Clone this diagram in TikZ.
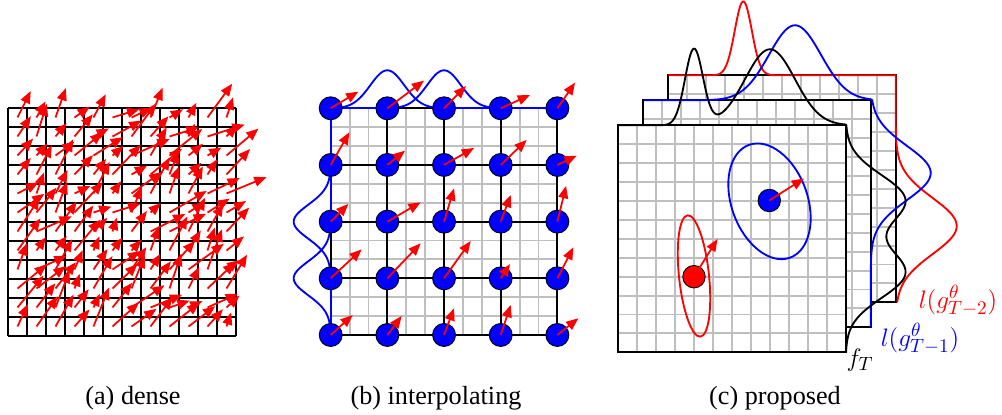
\documentclass[tikz,border=0pt]{standalone}
\usepackage{fontspec}
\setmainfont{Liberation Serif}
\usetikzlibrary{positioning,arrows.meta,calc}

\begin{document}
\begin{tikzpicture}[
  x=0.02cm, y=-0.02cm,
  font=\fontsize{14.9}{17}\selectfont, >={Triangle[length=7pt,width=5.6pt]},
  declare function={gs(\va,\vb,\vc)=exp(-((\va-\vb)/\vc)*((\va-\vb)/\vc)/2);},
  flow/.style={->,red,line width=1pt},
  coarse/.style={black,line width=1.1pt},
  fine/.style={black!25,line width=1.1pt},
  prof/.style={line width=1.05pt,line join=round},
  dot/.style={circle,draw=black,line width=0.5pt,fill=blue,inner sep=0pt,minimum size=0.46cm},
  lbl/.style={inner sep=0pt,font=\fontsize{15.5}{17}\selectfont},
  subcap/.style={anchor=base}
]
\useasboundingbox (0,0) rectangle (1002,415);

% (a) dense
\foreach \k in {0,...,12} {
  \draw[coarse,line width=1.25pt] (8+\k*19,108) -- (8+\k*19,336);
  \draw[coarse,line width=1.25pt] (8,108+\k*19) -- (236,108+\k*19);
}
\pgfmathsetseed{11}
\foreach \i in {0,...,11} {
  \foreach \j in {0,...,11} {
    \pgfmathsetmacro\ang{45+28*rand}
    \pgfmathsetmacro\len{29+15*rand}
    \draw[flow] (17.5+\i*19,117.5+\j*19) -- ++({\len*cos(\ang)},{-\len*sin(\ang)});
  }
}

% (b) interpolating
\foreach \k in {0,...,12} {
  \draw[fine] (330.7+\k*18.89,108.3) -- ++(0,226.7);
  \draw[fine] (330.7,108.3+\k*18.89) -- ++(226.7,0);
}
\foreach \k in {0,...,4} {
  \draw[coarse] (330.7+\k*56.67,108.3) -- ++(0,226.7);
  \draw[coarse] (330.7,108.3+\k*56.67) -- ++(226.7,0);
}
\foreach \i in {0,...,4} {
  \foreach \j in {0,...,4} {
    \coordinate (g\i\j) at (330.7+\i*56.67,108.3+\j*56.67);
  }
}
\draw[blue,prof] (g00) -- (g10) (g20) -- (g40);
\draw[blue,prof] (g00) -- (g02) (g03) -- (g04);
\draw[blue,prof] plot[domain=-56.67:56.67,samples=60] ({387.3+\x},{108.3-38*gs(\x,0,17)});
\draw[blue,prof] plot[domain=-56.67:56.67,samples=60] ({444+\x},{108.3-38*gs(\x,0,17)});
\draw[blue,prof] plot[domain=-56.67:56.67,samples=60] ({330.7-37*gs(\x,0,17)},{221.7+\x});
\draw[blue,prof] plot[domain=-56.67:56.67,samples=60] ({330.7-37*gs(\x,0,17)},{278.3+\x});
\foreach \i in {0,...,4} {
  \foreach \j in {0,...,4} {
    \node[dot] (b\i\j) at (g\i\j) {};
  }
}
\foreach \i/\j/\u/\v in {
  0/0/27.7/-16.7, 1/0/36.7/-27.7, 2/0/22/-22.3, 3/0/29.3/-13.3, 4/0/17.7/-25.7,
  0/1/18.7/-32.7, 1/1/17.7/-14.3, 2/1/30/-17, 3/1/26/-25, 4/1/19.3/-9.3,
  0/2/17.7/-17.7, 1/2/33.3/-19.3, 2/2/10/-33.3, 3/2/10/-26.7, 4/2/8.7/-35.7,
  0/3/31/-29, 1/3/33.3/-35, 2/3/26.7/-37.3, 3/3/9.3/-14.3, 4/3/16/-31,
  0/4/22/-20, 1/4/14.3/-19, 2/4/10/-26.7, 3/4/10/-30, 4/4/21/-16.7} {
  \draw[flow] (b\i\j.center) -- ++(\u,\v);
}

% (c) proposed
\foreach \d in {50,25,0} {
  \begin{scope}[shift={(\d,-\d)}]
    \fill[white] (618.3,125.3) rectangle (845.7,352.3);
    \foreach \k in {1,...,11} {
      \draw[fine] (618.3+\k*18.95,125.3) -- ++(0,227);
      \draw[fine] (618.3,125.3+\k*18.92) -- ++(227.4,0);
    }
    \draw[black,line width=1.2pt] (618.3,125.3) rectangle (845.7,352.3);
  \end{scope}
}
\draw[red,prof] plot[domain=668.3:895.7,samples=150] (\x,{75.3-74*gs(\x,743.3,8.5)})
  -- plot[domain=75.3:302.3,samples=100] ({895.7+61*gs(\x,226,28)},\x);
\draw[blue,prof] plot[domain=643.3:870.7,samples=120] (\x,{100.3-75*gs(\x,795,26)})
  -- plot[domain=100.3:327.3,samples=100] ({870.7+60*gs(\x,173,27)},\x);
\draw[black,prof] plot[domain=618.3:845.7,samples=200] (\x,{125.3-76*gs(\x,694,9)-76*gs(\x,770,25)})
  -- plot[domain=125.3:352.3,samples=120] ({845.7+59*gs(\x,200,25)+59*gs(\x,273,25)},\x);

\draw[blue,prof,rotate around={20:(769.5,201.3)}] (769.5,201.3) ellipse[x radius=38,y radius=60];
\draw[red,prof,rotate around={6:(694,276)}] (694,276) ellipse[x radius=15,y radius=61];
\node[dot,minimum size=0.45cm] (cb) at (769.3,200.5) {};
\node[dot,fill=red,minimum size=0.45cm] (cr) at (694,276.7) {};
\draw[flow] (cb.center) -- ++(34.7,-22);
\draw[flow] (cr.center) -- ++(23.5,-37.7);

\node[lbl] (fT) at (860,360) {$f_T$};
\node[lbl,blue] (lb) at (920,339) {$l(g^\theta_{T-1})$};
\node[lbl,red] (lr) at (958,301) {$l(g^\theta_{T-2})$};

% captions
\node[subcap] (capa) at (133,405) {(a) dense};
\node[subcap] (capb) at (436,405) {(b) interpolating};
\node[subcap] (capc) at (775,405) {(c) proposed};
\end{tikzpicture}
\end{document}
